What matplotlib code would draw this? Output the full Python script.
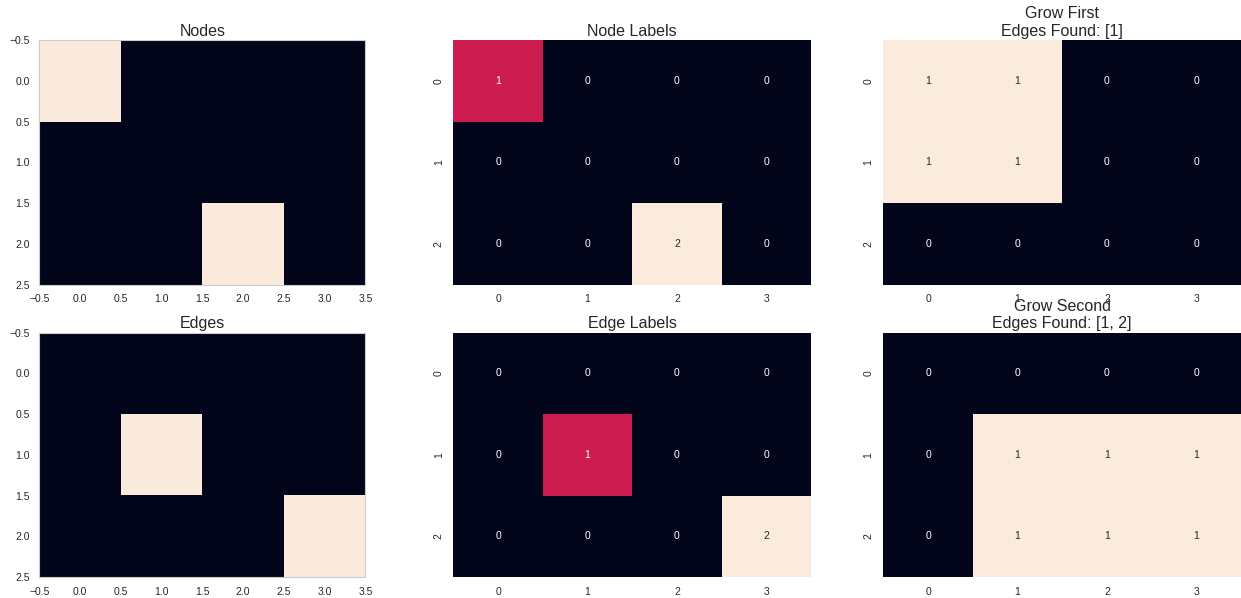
import matplotlib
matplotlib.use("Agg")
import matplotlib.pyplot as plt
import seaborn as sns
import numpy as np

sns.set_style("white")
plt.rcParams['font.family'] = ['Liberation Sans', 'DejaVu Sans']

nodes = [[1, 0, 0, 0],
         [0, 0, 0, 0],
         [0, 0, 1, 0]]
node_labels = [[1, 0, 0, 0],
               [0, 0, 0, 0],
               [0, 0, 2, 0]]
grow_first = [[1, 1, 0, 0],
              [1, 1, 0, 0],
              [0, 0, 0, 0]]
edges = [[0, 0, 0, 0],
         [0, 1, 0, 0],
         [0, 0, 0, 1]]
edge_labels = [[0, 0, 0, 0],
               [0, 1, 0, 0],
               [0, 0, 0, 2]]
grow_second = [[0, 0, 0, 0],
               [0, 1, 1, 1],
               [0, 1, 1, 1]]
edges_found_first = [1]
edges_found_second = [1, 2]

TICK = 7.5
TITLE = 11.5

fig, axes = plt.subplots(2, 3, figsize=(12.41, 5.98), dpi=100)
plt.subplots_adjust(left=0.019, right=1.0, bottom=0.035, top=0.933,
                    wspace=0.202, hspace=0.196)

def left_plot(ax, data, title):
    ax.imshow(np.array(data), cmap="rocket")
    ax.set_title(title, fontsize=TITLE, color="#262626", pad=3)
    ax.tick_params(labelsize=TICK, colors="#262626")
    for s in ax.spines.values():
        s.set_color("#cccccc")

def heat_plot(ax, data, title):
    sns.heatmap(np.array(data), ax=ax, annot=True, cbar=False,
                annot_kws={"fontsize": TICK})
    ax.set_title(title, fontsize=TITLE, color="#262626", pad=3)
    ax.tick_params(labelsize=TICK, colors="#262626")
    plt.setp(ax.get_yticklabels(), rotation=90, va="center")

left_plot(axes[0, 0], nodes, "Nodes")
heat_plot(axes[0, 1], node_labels, "Node Labels")
heat_plot(axes[0, 2], grow_first, "Grow First\nEdges Found: " + str(edges_found_first))
left_plot(axes[1, 0], edges, "Edges")
heat_plot(axes[1, 1], edge_labels, "Edge Labels")
heat_plot(axes[1, 2], grow_second, "Grow Second\nEdges Found: " + str(edges_found_second))

fig.savefig("out.png", dpi=100)
